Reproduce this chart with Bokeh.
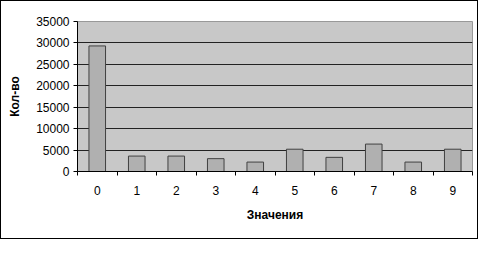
from bokeh.plotting import figure
from bokeh.models import Range1d, FixedTicker
from bokeh.embed import file_html
from bokeh.resources import INLINE

categories = ["0", "1", "2", "3", "4", "5", "6", "7", "8", "9"]
counts = [29300, 3600, 3600, 3000, 2200, 5200, 3300, 6400, 2200, 5200]
y_ticks = [0, 5000, 10000, 15000, 20000, 25000, 30000, 35000]

xs = list(range(len(categories)))

p = figure(width=478, height=239, output_backend="svg", toolbar_location=None,
           x_range=Range1d(-0.5, len(categories) - 0.5), y_range=Range1d(0, 35000),
           min_border_left=76, min_border_right=7, min_border_top=20, min_border_bottom=69)
p.styles = {"border": "1px solid black", "box-sizing": "border-box"}

p.background_fill_color = "#c8c8c8"
p.border_fill_color = "white"
p.outline_line_color = "#999999"

p.vbar(x=xs, top=counts, width=0.42, fill_color="#b0b0b0", line_color="#404040", line_width=1)

font = "Liberation Sans"
# x axis
p.xaxis.ticker = FixedTicker(ticks=xs, minor_ticks=[i - 0.5 for i in range(len(categories) + 1)])
p.xaxis.major_label_overrides = {i: c for i, c in enumerate(categories)}
p.xaxis.major_tick_out = 0
p.xaxis.major_tick_in = 0
p.xaxis.minor_tick_out = 4
p.xaxis.minor_tick_in = 0
p.xaxis.minor_tick_line_color = "black"
p.xaxis.axis_line_color = "black"
p.xaxis.major_label_text_font = font
p.xaxis.major_label_text_font_size = "12px"
p.xaxis.major_label_text_color = "black"
p.xaxis.major_label_standoff = 10
p.xaxis.axis_label = "Значения"
p.xaxis.axis_label_text_font = font
p.xaxis.axis_label_text_font_size = "12px"
p.xaxis.axis_label_text_font_style = "bold"
p.xaxis.axis_label_text_color = "black"
p.xaxis.axis_label_standoff = 10

# y axis
p.yaxis.ticker = FixedTicker(ticks=y_ticks)
p.yaxis.major_tick_out = 4
p.yaxis.major_tick_in = 0
p.yaxis.minor_tick_line_color = None
p.yaxis.axis_line_color = "black"
p.yaxis.major_tick_line_color = "black"
p.yaxis.major_label_text_font = font
p.yaxis.major_label_text_font_size = "12px"
p.yaxis.major_label_text_color = "black"
p.yaxis.major_label_standoff = 4
p.yaxis.axis_label = "Кол-во"
p.yaxis.axis_label_text_font = font
p.yaxis.axis_label_text_font_size = "12px"
p.yaxis.axis_label_text_font_style = "bold"
p.yaxis.axis_label_text_color = "black"
p.yaxis.axis_label_standoff = 11

p.xgrid.visible = False
p.ygrid.ticker = FixedTicker(ticks=y_ticks[1:-1])
p.ygrid.grid_line_color = "#222222"
p.ygrid.grid_line_width = 1

open("out.html", "w").write(file_html(p, INLINE))
